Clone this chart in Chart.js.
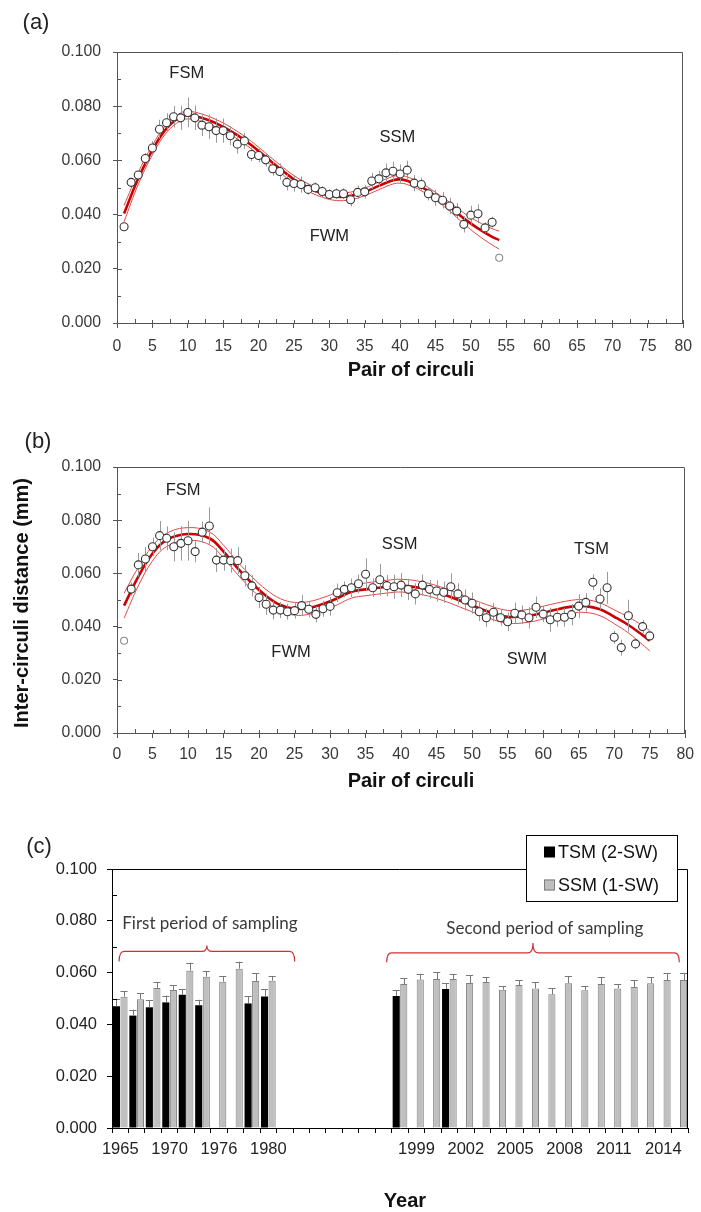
<!DOCTYPE html>
<html><head><meta charset="utf-8">
<script src="https://cdn.jsdelivr.net/npm/chart.js@4.4.1/dist/chart.umd.min.js"></script>
<style>
html,body{margin:0;padding:0;background:#fff}
body{width:701px;height:1212px;position:relative;overflow:hidden}
canvas{position:absolute;left:0}
</style></head><body>
<canvas id="ca" width="701" height="400" style="top:0px;width:701px;height:400px"></canvas>
<canvas id="cb" width="701" height="400" style="top:400px;width:701px;height:400px"></canvas>
<canvas id="cc" width="701" height="412" style="top:800px;width:701px;height:412px"></canvas>
<script>
// ================= DATA =================
// ---- Panel (a): first sea winter, pairs of circuli ----
const pairsA = [1,2,3,4,5,6,7,8,9,10,11,12,13,14,15,16,17,18,19,20,21,22,23,24,25,26,27,28,29,30,31,32,33,34,35,36,37,38,39,40,41,42,43,44,45,46,47,48,49,50,51,52,53,54];
const meanA = [0.0355,0.0519,0.0546,0.0607,0.0646,0.0715,0.0739,0.0761,0.0757,0.0777,
               0.0757,0.0730,0.0724,0.0710,0.0710,0.0691,0.0660,0.0672,0.0622,0.0618,
               0.0602,0.0569,0.0559,0.0519,0.0515,0.0511,0.0493,0.0499,0.0485,0.0474,
               0.0477,0.0477,0.0455,0.0482,0.0484,0.0524,0.0532,0.0554,0.0560,0.0550,
               0.0564,0.0516,0.0511,0.0477,0.0462,0.0453,0.0432,0.0413,0.0364,0.0398,
               0.0403,0.0351,0.0372,0.0241];
const errA = [0.0010,0.0015,0.0015,0.0020,0.0025,0.0035,0.0035,0.0040,0.0045,0.0055,
              0.0045,0.0040,0.0045,0.0045,0.0045,0.0035,0.0035,0.0030,0.0025,0.0025,
              0.0025,0.0025,0.0030,0.0030,0.0030,0.0030,0.0020,0.0020,0.0020,0.0020,
              0.0020,0.0020,0.0025,0.0025,0.0025,0.0030,0.0030,0.0035,0.0035,0.0035,
              0.0035,0.0030,0.0025,0.0025,0.0030,0.0030,0.0030,0.0030,0.0030,0.0035,
              0.0035,0.0020,0.0020,0.0005];
const fitXA = [1,3,5,7,9,10,11,13,15,17,19,21,23,25,27,29,31,33,35,37,39,40,41,43,45,47,49,51,53,54];
const fitA   = [0.0404,0.0533,0.0638,0.0718,0.0761,0.0767,0.0764,0.0748,0.0724,0.0693,0.0656,0.0613,0.0570,0.0530,0.0500,0.0478,0.0466,0.0469,0.0484,0.0506,0.0527,0.0530,0.0525,0.0502,0.0468,0.0429,0.0386,0.0349,0.0318,0.0306];
const fitHiA = [0.0434,0.0555,0.0656,0.0733,0.0775,0.0781,0.0778,0.0762,0.0738,0.0707,0.0670,0.0627,0.0584,0.0544,0.0514,0.0492,0.0480,0.0483,0.0498,0.0520,0.0541,0.0544,0.0539,0.0516,0.0482,0.0445,0.0406,0.0374,0.0348,0.0339];
const fitLoA = [0.0374,0.0511,0.0620,0.0703,0.0747,0.0753,0.0750,0.0734,0.0710,0.0679,0.0642,0.0599,0.0556,0.0516,0.0486,0.0464,0.0452,0.0455,0.0470,0.0492,0.0513,0.0516,0.0511,0.0488,0.0454,0.0413,0.0366,0.0324,0.0288,0.0273];

// ---- Panel (b): two sea winters ----
const pairsB = [1,2,3,4,5,6,7,8,9,10,11,12,13,14,15,16,17,18,19,20,21,22,23,24,25,26,27,28,29,30,31,32,33,34,35,36,37,38,39,40,41,42,43,44,45,46,47,48,49,50,51,52,53,54,55,56,57,58,59,60,61,62,63,64,65,66,67,68,69,70,71,72,73,74,75];
const meanB = [0.0347,0.0541,0.0632,0.0654,0.0700,0.0742,0.0732,0.0700,0.0713,0.0723,
               0.0682,0.0755,0.0778,0.0650,0.0650,0.0648,0.0648,0.0591,0.0553,0.0509,
               0.0484,0.0462,0.0462,0.0456,0.0460,0.0479,0.0465,0.0446,0.0467,0.0476,
               0.0527,0.0540,0.0546,0.0561,0.0597,0.0546,0.0576,0.0554,0.0550,0.0556,
               0.0540,0.0523,0.0556,0.0540,0.0534,0.0529,0.0550,0.0523,0.0500,0.0488,
               0.0456,0.0433,0.0454,0.0433,0.0418,0.0450,0.0444,0.0433,0.0473,0.0447,
               0.0426,0.0435,0.0435,0.0445,0.0477,0.0491,0.0567,0.0504,0.0546,0.0360,
               0.0321,0.0441,0.0335,0.0400,0.0365];
const errB = [0.0000,0.0025,0.0045,0.0045,0.0035,0.0055,0.0045,0.0055,0.0065,0.0075,
              0.0040,0.0040,0.0070,0.0045,0.0040,0.0045,0.0050,0.0040,0.0040,0.0040,
              0.0040,0.0035,0.0030,0.0030,0.0030,0.0040,0.0030,0.0030,0.0030,0.0035,
              0.0035,0.0030,0.0035,0.0035,0.0060,0.0035,0.0060,0.0040,0.0045,0.0045,
              0.0040,0.0040,0.0040,0.0035,0.0040,0.0040,0.0050,0.0040,0.0040,0.0040,
              0.0035,0.0035,0.0035,0.0030,0.0035,0.0040,0.0035,0.0040,0.0040,0.0030,
              0.0045,0.0035,0.0035,0.0040,0.0045,0.0035,0.0030,0.0040,0.0060,0.0025,
              0.0030,0.0060,0.0020,0.0025,0.0015];
const fitXB = [1,3,5,7,10,13,15,17,19,21,23,25,27,29,31,33,35,38,40,43,46,49,52,55,58,61,64,66,68,70,72,74,75];
const fitB   = [0.0479,0.0588,0.0675,0.0726,0.0748,0.0732,0.0682,0.0619,0.0563,0.0515,0.0481,0.0467,0.0470,0.0485,0.0506,0.0531,0.0540,0.0550,0.0554,0.0544,0.0521,0.0490,0.0459,0.0437,0.0441,0.0459,0.0475,0.0477,0.0465,0.0437,0.0406,0.0368,0.0347];
const fitHiB = [0.0526,0.0623,0.0703,0.0751,0.0772,0.0756,0.0706,0.0643,0.0587,0.0539,0.0505,0.0491,0.0494,0.0509,0.0530,0.0555,0.0564,0.0574,0.0578,0.0568,0.0545,0.0514,0.0483,0.0461,0.0465,0.0483,0.0499,0.0501,0.0489,0.0463,0.0436,0.0404,0.0385];
const fitLoB = [0.0432,0.0553,0.0647,0.0701,0.0724,0.0708,0.0658,0.0595,0.0539,0.0491,0.0457,0.0443,0.0446,0.0461,0.0482,0.0507,0.0516,0.0526,0.0530,0.0520,0.0497,0.0466,0.0435,0.0413,0.0417,0.0435,0.0451,0.0453,0.0441,0.0411,0.0376,0.0332,0.0309];

// ---- Panel (c): yearly means ----
const yearTickLabels = ['1965','','','1970','','','1976','','','1980',
                        '','','','','','','','','1999','',
                        '','2002','','','2005','','','2008','','',
                        '2011','','','2014',''];
const tsmMean = [0.0470,0.0434,0.0466,0.0485,0.0514,0.0474,null,null,0.0481,0.0508,
                 null,null,null,null,null,null,null,0.0510,null,null,
                 0.0537,null,null,null,null,null,null,null,null,null,
                 null,null,null,null,null];
const tsmErr  = [0.0029,0.0023,0.0027,0.0026,0.0023,0.0021,null,null,0.0027,0.0027,
                 null,null,null,null,null,null,null,0.0022,null,null,
                 0.0023,null,null,null,null,null,null,null,null,null,
                 null,null,null,null,null];
const ssmMean = [0.0507,0.0497,0.0541,0.0533,0.0607,0.0584,0.0565,0.0615,0.0568,0.0569,
                 null,null,null,null,null,null,null,0.0556,0.0573,0.0575,
                 0.0575,0.0560,0.0564,0.0534,0.0552,0.0539,0.0516,0.0559,0.0532,0.0556,
                 0.0539,0.0544,0.0559,0.0571,0.0571];
const ssmErr  = [0.0022,0.0024,0.0023,0.0019,0.0031,0.0022,0.0022,0.0027,0.0030,0.0018,
                 null,null,null,null,null,null,null,0.0023,0.0022,0.0027,
                 0.0020,0.0030,0.0018,0.0014,0.0018,0.0023,0.0023,0.0027,0.0015,0.0026,
                 0.0016,0.0026,0.0023,0.0027,0.0027];
const seriesNamesC = ['TSM (2-SW)','SSM (1-SW)'];

// ================= RENDERING =================
Chart.defaults.font.family = "'Liberation Sans', Arial, sans-serif";
Chart.defaults.animation = false;
Chart.defaults.plugins.legend.display = false;
Chart.defaults.plugins.tooltip.enabled = false;

function xy(xs, ys){ return xs.map((x,i)=>({x:x, y:ys[i]})); }

function drawErr(chart, args, after){
  const ds = chart.data.datasets[args.index];
  if(!ds.errorBars || !!ds.errorAfter !== after) return;
  const ctx = chart.ctx, ys = chart.scales.y;
  ctx.save();
  ctx.strokeStyle = ds.errorColor || '#999';
  ctx.lineWidth = 1;
  args.meta.data.forEach((el,i)=>{
    const raw = ds.data[i];
    const v = (raw && typeof raw === 'object') ? raw.y : raw;
    const e = ds.errorBars[i];
    if(v == null || !e) return;
    const yt = ys.getPixelForValue(v+e);
    const yb = ds.errorUpOnly ? el.y : ys.getPixelForValue(v-e);
    const x = Math.round(el.x)+0.5;
    ctx.beginPath(); ctx.moveTo(x,yt); ctx.lineTo(x,yb); ctx.stroke();
    if(ds.errorCap){
      const w = el.width/2;
      const yy = Math.round(yt)+0.5;
      ctx.beginPath(); ctx.moveTo(el.x-w,yy); ctx.lineTo(el.x+w,yy); ctx.stroke();
    }
  });
  ctx.restore();
}

function makeDeco(cfg){
  return {
    id:'deco',
    beforeDatasetDraw(chart,args){ drawErr(chart,args,false); },
    afterDatasetDraw(chart,args){ drawErr(chart,args,true); },
    afterDraw(chart){
      const ctx = chart.ctx, ca = chart.chartArea, xs = chart.scales.x, ys = chart.scales.y;
      ctx.save();
      const L = Math.round(ca.left), R = Math.round(ca.right), T = Math.round(ca.top), B = Math.round(ca.bottom);
      // frame
      ctx.strokeStyle = cfg.frameColor; ctx.lineWidth = 1;
      ctx.beginPath(); ctx.moveTo(L, T+0.5); ctx.lineTo(R-0.5, T+0.5); ctx.lineTo(R-0.5, B); ctx.stroke();
      // inner ticks
      ctx.strokeStyle = cfg.tickColor;
      if(cfg.yTicks){
        const t = cfg.yTicks;
        for(let k=0;k<=t.n;k++){
          const len = (k % t.every === 0) ? t.major : t.minor;
          if(!len) continue;
          const y = Math.round(ys.getPixelForValue(k*t.step))+0.5;
          ctx.beginPath(); ctx.moveTo(L, y); ctx.lineTo(L+len, y); ctx.stroke();
        }
      }
      if(cfg.xTicks){
        const t = cfg.xTicks;
        for(let k=0;k<=t.n;k++){
          const len = (k % t.every === 0) ? t.major : t.minor;
          if(!len) continue;
          const x = Math.round(xs.getPixelForValue(k*t.step))+0.5;
          ctx.beginPath(); ctx.moveTo(x, B); ctx.lineTo(x, B-len); ctx.stroke();
        }
      }
      // braces
      (cfg.braces||[]).forEach(b=>{
        const x1 = xs.getPixelForValue(b.x1), x2 = xs.getPixelForValue(b.x2);
        const xm = (x1+x2)/2;
        const y = ys.getPixelForValue(b.y), ye = ys.getPixelForValue(b.yEnd), yt = ys.getPixelForValue(b.yTip);
        const r = 5;
        ctx.strokeStyle = b.color; ctx.lineWidth = 1.2;
        ctx.beginPath();
        ctx.moveTo(x1, ye);
        ctx.quadraticCurveTo(x1, y, x1+r, y);
        ctx.lineTo(xm-r, y);
        ctx.quadraticCurveTo(xm, y, xm, yt);
        ctx.quadraticCurveTo(xm, y, xm+r, y);
        ctx.lineTo(x2-r, y);
        ctx.quadraticCurveTo(x2, y, x2, ye);
        ctx.stroke();
        ctx.fillStyle = b.textColor; ctx.font = b.font;
        ctx.textAlign = 'center'; ctx.textBaseline = 'middle';
        ctx.fillText(b.text, xs.getPixelForValue(b.tx), ys.getPixelForValue(b.ty));
      });
      // annotations in data coordinates
      (cfg.notes||[]).forEach(n=>{
        ctx.fillStyle = n.color || '#222'; ctx.font = n.font;
        ctx.textAlign = 'center'; ctx.textBaseline = 'middle';
        ctx.fillText(n.t, xs.getPixelForValue(n.x), ys.getPixelForValue(n.y));
      });
      // legend
      if(cfg.legend){
        const lg = cfg.legend;
        ctx.fillStyle = '#fff'; ctx.fillRect(lg.x, lg.y, lg.w, lg.h);
        ctx.strokeStyle = '#000'; ctx.lineWidth = 1;
        ctx.strokeRect(lg.x+0.5, lg.y+0.5, lg.w, lg.h);
        chart.data.datasets.forEach((ds,i)=>{
          const cy = lg.y + lg.rowY[i];
          ctx.fillStyle = ds.backgroundColor;
          ctx.fillRect(lg.sx, cy-5.5, 11, 11);
          if(ds.borderWidth){ ctx.strokeStyle = ds.borderColor; ctx.strokeRect(lg.sx+0.5, cy-5, 10, 10); }
          ctx.fillStyle = '#111'; ctx.font = lg.font;
          ctx.textAlign = 'left'; ctx.textBaseline = 'middle';
          ctx.fillText(ds.label, lg.tx, cy+1);
        });
      }
      // texts in canvas pixels (panel labels, axis titles)
      (cfg.texts||[]).forEach(t=>{
        ctx.save();
        ctx.fillStyle = t.color || '#111'; ctx.font = t.font;
        ctx.textAlign = 'center'; ctx.textBaseline = 'middle';
        ctx.translate(t.x, t.y);
        if(t.rot) ctx.rotate(t.rot);
        ctx.fillText(t.t, 0, 0);
        ctx.restore();
      });
      ctx.restore();
    }
  };
}

const AX = '#555';
const TICKFONT = {size:15.8};

function linearScales(plotLeft, xHeight, xPad){
  return {
    x:{ type:'linear', min:0, max:80,
        afterFit(s){ s.height = xHeight; },
        ticks:{ stepSize:5, font:TICKFONT, color:'#3a3a3a', padding:xPad, maxRotation:0, autoSkip:false },
        grid:{ drawOnChartArea:false, drawTicks:true, tickLength:5, color:AX },
        border:{ color:AX, width:1 } },
    y:{ type:'linear', min:0, max:0.1,
        afterFit(s){ s.width = plotLeft; },
        ticks:{ stepSize:0.02, font:TICKFONT, color:'#3a3a3a', padding:12, callback:v=>Number(v).toFixed(3) },
        grid:{ drawOnChartArea:false, drawTicks:true, tickLength:4, color:AX },
        border:{ color:AX, width:1 } }
  };
}

function pointsDataset(xs, ys, errs){
  const faint = c => errs[c.dataIndex] < 0.001;
  return {
    type:'scatter', data: xy(xs, ys), errorBars: errs, errorColor:'#9a9a9a',
    pointRadius: c => faint(c) ? 3.5 : 4, pointBackgroundColor:'#fff',
    pointBorderColor: c => faint(c) ? '#8a8a8a' : '#333',
    pointBorderWidth: 1.1, showLine:false
  };
}
function lineDataset(xs, ys, color, w){
  return { type:'line', data: xy(xs, ys), borderColor: color, borderWidth: w, pointRadius:0,
           tension:0.4, fill:false };
}

// ---------- Chart (a) ----------
new Chart(document.getElementById('ca'), {
  type:'scatter',
  data:{ datasets:[
    pointsDataset(pairsA, meanA, errA),
    lineDataset(fitXA, fitA, '#cc0000', 2.6),
    lineDataset(fitXA, fitHiA, '#e04848', 1),
    lineDataset(fitXA, fitLoA, '#e04848', 1)
  ]},
  options:{
    responsive:false, devicePixelRatio:1,
    layout:{ padding:{ top:52, right:12, left:0, bottom:0 } },
    scales: linearScales(117, 77, 9)
  },
  plugins:[ makeDeco({
    frameColor: AX, tickColor: AX,
    yTicks:{ step:0.01, n:10, every:2, major:5, minor:4 },
    xTicks:{ step:2.5, n:32, every:2, major:3, minor:4 },
    notes:[
      {t:'FSM', x:9.86, y:0.0922, font:'16.5px "Liberation Sans", Arial'},
      {t:'FWM', x:30.0, y:0.0321, font:'16.5px "Liberation Sans", Arial'},
      {t:'SSM', x:39.6, y:0.0686, font:'16.5px "Liberation Sans", Arial'}
    ],
    texts:[
      {t:'(a)', x:36, y:23, font:'22px "Liberation Sans", Arial', color:'#222'},
      {t:'Pair of circuli', x:411, y:370, font:'bold 20px "Liberation Sans", Arial'}
    ]
  }) ]
});

// ---------- Chart (b) ----------
new Chart(document.getElementById('cb'), {
  type:'scatter',
  data:{ datasets:[
    pointsDataset(pairsB, meanB, errB),
    lineDataset(fitXB, fitB, '#cc0000', 2.6),
    lineDataset(fitXB, fitHiB, '#e04848', 1),
    lineDataset(fitXB, fitLoB, '#e04848', 1)
  ]},
  options:{
    responsive:false, devicePixelRatio:1,
    layout:{ padding:{ top:67, right:13, left:0, bottom:0 } },
    scales: linearScales(117, 67, 7)
  },
  plugins:[ makeDeco({
    frameColor: AX, tickColor: AX,
    yTicks:{ step:0.01, n:10, every:2, major:5, minor:4 },
    xTicks:{ step:2.5, n:32, every:2, major:3, minor:4 },
    notes:[
      {t:'FSM', x:9.3, y:0.0910, font:'16.5px "Liberation Sans", Arial'},
      {t:'FWM', x:24.5, y:0.0303, font:'16.5px "Liberation Sans", Arial'},
      {t:'SSM', x:39.8, y:0.0710, font:'16.5px "Liberation Sans", Arial'},
      {t:'TSM', x:66.8, y:0.0691, font:'16.5px "Liberation Sans", Arial'},
      {t:'SWM', x:57.7, y:0.0276, font:'16.5px "Liberation Sans", Arial'}
    ],
    texts:[
      {t:'(b)', x:38, y:42, font:'22px "Liberation Sans", Arial', color:'#222'},
      {t:'Pair of circuli', x:411, y:381, font:'bold 20px "Liberation Sans", Arial'},
      {t:'Inter-circuli distance (mm)', x:22.5, y:203, rot:-Math.PI/2, font:'bold 20px "Liberation Sans", Arial'}
    ]
  }) ]
});

// ---------- Chart (c) ----------
new Chart(document.getElementById('cc'), {
  type:'bar',
  data:{ labels: yearTickLabels, datasets:[
    { label: seriesNamesC[0], data: tsmMean, backgroundColor:'#000000', borderColor:'#000000', borderWidth:0,
      errorBars: tsmErr, errorAfter:true, errorUpOnly:true, errorCap:true, errorColor:'#777' },
    { label: seriesNamesC[1], data: ssmMean, backgroundColor:'#bfbfbf', borderColor:'#7f7f7f', borderWidth:1,
      errorBars: ssmErr, errorAfter:true, errorUpOnly:true, errorCap:true, errorColor:'#777' }
  ]},
  options:{
    responsive:false, devicePixelRatio:1,
    layout:{ padding:{ top:69, right:13, left:0, bottom:0 } },
    datasets:{ bar:{ categoryPercentage:0.92, barPercentage:0.94 } },
    scales:{
      x:{ type:'category', offset:true,
          afterFit(s){ s.height = 84; },
          ticks:{ font:{size:16.5}, color:'#222', padding:7, maxRotation:0, autoSkip:false },
          grid:{ offset:true, drawOnChartArea:false, drawTicks:true, tickLength:5, color:'#000' },
          border:{ color:'#000', width:1 } },
      y:{ type:'linear', min:0, max:0.1,
          afterFit(s){ s.width = 112; },
          ticks:{ stepSize:0.02, font:{size:16.5}, color:'#222', padding:10, callback:v=>Number(v).toFixed(3) },
          grid:{ drawOnChartArea:false, drawTicks:true, tickLength:5, color:'#000' },
          border:{ color:'#000', width:1 } }
    }
  },
  plugins:[ makeDeco({
    frameColor:'#000', tickColor:'#000',
    yTicks:{ step:0.01, n:10, every:2, major:0, minor:5 },
    braces:[
      {x1:-0.07, x2:10.6, y:0.0682, yEnd:0.0643, yTip:0.0705, color:'#d03030',
       text:'First period of sampling', tx:5.45, ty:0.0789, font:'17px Lato, "Open Sans", sans-serif', textColor:'#3a3a3a'},
      {x1:16.19, x2:33.97, y:0.0676, yEnd:0.0640, yTip:0.0714, color:'#d03030',
       text:'Second period of sampling', tx:25.8, ty:0.0770, font:'17px Lato, "Open Sans", sans-serif', textColor:'#3a3a3a'}
    ],
    legend:{ x:526, y:35, w:151, h:66, sx:544, tx:558, rowY:[17,50], font:'18px "Liberation Sans", Arial' },
    texts:[
      {t:'(c)', x:39, y:47, font:'22px "Liberation Sans", Arial', color:'#222'},
      {t:'Year', x:405, y:401, font:'bold 20px "Liberation Sans", Arial'}
    ]
  }) ]
});
</script>
</body></html>
